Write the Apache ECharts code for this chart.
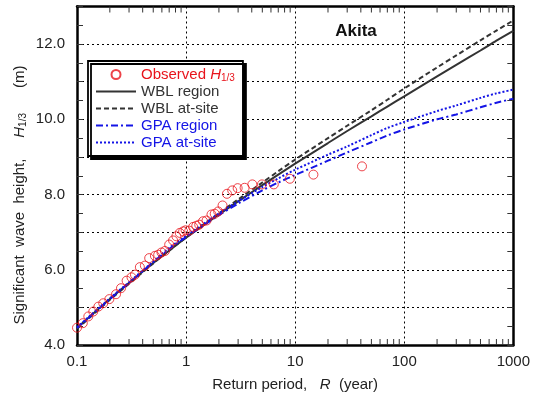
<!DOCTYPE html>
<html>
<head>
<meta charset="utf-8">
<script src="https://cdn.jsdelivr.net/npm/echarts@6/dist/echarts.min.js"></script>
<style>html,body{margin:0;padding:0;background:#fff}#c{width:533px;height:403px}</style>
</head>
<body>
<div id="c"></div>
<script>
// ---- data ----
var obsR = [0.1, 0.113, 0.127, 0.141, 0.157, 0.174, 0.198, 0.228, 0.253, 0.285, 0.316, 0.34, 0.377, 0.419, 0.459, 0.518, 0.555, 0.595, 0.64, 0.70, 0.76, 0.815, 0.875, 0.94, 0.99, 1.07, 1.16, 1.24, 1.32, 1.43, 1.54, 1.71, 1.83, 1.97, 2.16, 2.37, 2.65, 2.97, 3.44, 4.05, 4.96, 6.37, 8.94, 14.7, 41.0];
var obsH = [4.46, 4.58, 4.76, 4.89, 5.02, 5.11, 5.22, 5.35, 5.51, 5.71, 5.80, 5.87, 6.07, 6.11, 6.31, 6.37, 6.40, 6.46, 6.50, 6.67, 6.78, 6.89, 6.98, 7.02, 7.05, 7.04, 7.14, 7.17, 7.20, 7.29, 7.31, 7.47, 7.49, 7.55, 7.71, 8.02, 8.11, 8.17, 8.18, 8.27, 8.27, 8.27, 8.42, 8.53, 8.75];

var curveR = [0.1, 0.2, 0.3, 0.5, 0.7, 1, 2, 3, 5, 7, 10, 20, 30, 50, 70, 100, 200, 300, 500, 700, 1000];
var wblRegion = [4.45, 5.22, 5.65, 6.18, 6.51, 6.85, 7.47, 7.82, 8.25, 8.53, 8.82, 9.37, 9.69, 10.08, 10.34, 10.61, 11.14, 11.45, 11.83, 12.09, 12.35];
var wblAtSite = [4.43, 5.20, 5.63, 6.17, 6.51, 6.86, 7.50, 7.87, 8.32, 8.62, 8.93, 9.50, 9.83, 10.24, 10.52, 10.82, 11.38, 11.70, 12.10, 12.36, 12.63];
var gpaRegion = [4.45, 5.22, 5.65, 6.20, 6.55, 6.87, 7.45, 7.76, 8.11, 8.32, 8.52, 8.90, 9.12, 9.39, 9.57, 9.73, 10.00, 10.13, 10.32, 10.44, 10.55];
var gpaAtSite = [4.47, 5.24, 5.67, 6.22, 6.58, 6.90, 7.50, 7.82, 8.20, 8.43, 8.66, 9.06, 9.28, 9.58, 9.77, 9.93, 10.22, 10.37, 10.57, 10.69, 10.79];

var xMajorLabels = {0.1: '0.1', 1: '1', 10: '10', 100: '100', 1000: '1000'};
var xMinorTicks = [0.2,0.3,0.4,0.5,0.6,0.7,0.8,0.9, 2,3,4,5,6,7,8,9, 20,30,40,50,60,70,80,90, 200,300,400,500,600,700,800,900];
var yLabelValues = [4, 6, 8, 10, 12];

var names = ['Observed', 'WBL region', 'WBL at-site', 'GPA region', 'GPA at-site'];

// ---- build ----
function pairs(xs, ys){ return xs.map(function(x,i){ return [x, ys[i]]; }); }
var FONT = '"Liberation Sans", Arial, Helvetica, sans-serif';
var gridStyle = {show:true, lineStyle:{color:'#000', width:1, type:[2,3]}};
var BLUE = '#1414e6', DARK = '#333333', RED = '#e8141c';
var hideSym = {opacity: 0};

var chart = echarts.init(document.getElementById('c'));
var option = {
  animation: false,
  textStyle: {fontFamily: FONT},
  title: {
    text: 'Akita', left: 351, top: 18, textAlign: 'center',
    textStyle: {fontSize: 17, fontWeight: 'bold', color: '#111', fontFamily: FONT}
  },
  grid: {left: 77, right: 19, top: 6.5, bottom: 58},
  legend: {
    orient: 'vertical', left: 88, top: 61,
    itemWidth: 40, itemHeight: 9, itemGap: 0,
    padding: [5, 8, 5, 7],
    backgroundColor: '#fff', borderColor: '#000', borderWidth: 1.8,
    shadowColor: '#000', shadowOffsetX: 3, shadowOffsetY: 3, shadowBlur: 0,
    textStyle: {fontSize: 15, lineHeight: 17, fontFamily: FONT,
      rich: {i: {fontStyle: 'italic', fontSize: 15, fontFamily: FONT}, s: {fontSize: 10, verticalAlign: 'bottom', padding:[6,0,0,0], fontFamily: FONT}}},
    formatter: function(n){ return n === 'Observed' ? 'Observed {i|H}{s|1/3}' : n; },
    data: [
      {name: names[0], textStyle: {color: RED}},
      {name: names[1], textStyle: {color: DARK}, itemStyle: hideSym},
      {name: names[2], textStyle: {color: DARK}, itemStyle: hideSym},
      {name: names[3], textStyle: {color: BLUE}, itemStyle: hideSym},
      {name: names[4], textStyle: {color: BLUE}, itemStyle: hideSym}
    ]
  },
  xAxis: [{
    type: 'log', logBase: 10, min: 0.1, max: 1000, position: 'bottom',
    axisLine: {show: true, onZero: false, lineStyle: {color: '#000', width: 2.5}},
    axisTick: {show: false},
    axisLabel: {fontSize: 15, color: '#222', margin: 9, fontFamily: FONT,
      formatter: function(v){ var k = Object.keys(xMajorLabels).find(function(key){ return Math.abs(Math.log10(+key) - Math.log10(v)) < 1e-6; }); return k ? xMajorLabels[k] : ''; }},
    splitLine: gridStyle,
    name: 'Return period,   {i|R}  (year)', nameLocation: 'middle', nameGap: 32,
    nameTextStyle: {fontSize: 15, color: '#222', fontFamily: FONT, rich: {i: {fontStyle: 'italic', fontSize: 15, color:'#222', fontFamily: FONT}}}
  }, {
    type: 'log', logBase: 10, min: 0.1, max: 1000, position: 'top',
    axisLine: {show: true, onZero: false, lineStyle: {color: '#000', width: 2.5}},
    axisTick: {show: false}, axisLabel: {show: false}, splitLine: {show: false}
  }],
  yAxis: [{
    type: 'value', min: 4, max: 13, interval: 1, position: 'left',
    axisLine: {show: true, onZero: false, lineStyle: {color: '#000', width: 2.5}},
    axisTick: {show: true, inside: true, length: 6, lineStyle: {color: '#333', width: 1}},
    minorTick: {show: true, splitNumber: 2, length: 6, lineStyle: {color: '#333', width: 1}},
    axisLabel: {fontSize: 15, color: '#222', margin: 12, fontFamily: FONT,
      formatter: function(v){ return yLabelValues.indexOf(v) >= 0 ? v.toFixed(1) : ''; }},
    splitLine: gridStyle
  }, {
    type: 'value', min: 4, max: 13, interval: 1, position: 'right',
    axisLine: {show: true, onZero: false, lineStyle: {color: '#000', width: 2.5}},
    axisTick: {show: true, inside: true, length: 6, lineStyle: {color: '#333', width: 1}},
    minorTick: {show: true, splitNumber: 2, length: 6, lineStyle: {color: '#333', width: 1}},
    axisLabel: {show: false}, splitLine: {show: false}
  }],
  graphic: [{
    type: 'text', x: 20, y: 195, rotation: Math.PI/2,
    style: {
      text: 'Significant  wave  height,     {i|H}{s|1/3}      (m)',
      font: '15px ' + FONT, fill: '#222', align: 'center', verticalAlign: 'middle',
      rich: {i: {fontStyle: 'italic', fontSize: 15, fontFamily: FONT, fill:'#222'}, s: {fontSize: 10, fontFamily: FONT, fill:'#222', verticalAlign:'bottom', padding:[6,0,0,0]}}
    }
  }],
  series: [
    {
      name: 'minorTicks', type: 'custom', silent: true, clip: false, z: 5,
      data: xMinorTicks.map(function(v){ return [v, 4]; }),
      renderItem: function(params, api){
        var pb = api.coord([api.value(0), 4]);
        var pt = api.coord([api.value(0), 13]);
        var st = {stroke: '#333', lineWidth: 1};
        return {type: 'group', children: [
          {type: 'line', shape: {x1: pb[0], y1: pb[1], x2: pb[0], y2: pb[1] - 6}, style: st},
          {type: 'line', shape: {x1: pt[0], y1: pt[1], x2: pt[0], y2: pt[1] + 6}, style: st}
        ]};
      }
    },
    {name: names[1], type: 'line', data: pairs(curveR, wblRegion), symbol: 'none', smooth: 0.3, z: 3,
      lineStyle: {color: DARK, width: 2}, itemStyle: {color: DARK}},
    {name: names[2], type: 'line', data: pairs(curveR, wblAtSite), symbol: 'none', smooth: 0.3, z: 3,
      lineStyle: {color: DARK, width: 2, type: [5, 3]}, itemStyle: {color: DARK}},
    {name: names[3], type: 'line', data: pairs(curveR, gpaRegion), symbol: 'none', smooth: 0.3, z: 3,
      lineStyle: {color: BLUE, width: 2, type: [7, 3, 2, 3]}, itemStyle: {color: BLUE}},
    {name: names[4], type: 'line', data: pairs(curveR, gpaAtSite), symbol: 'none', smooth: 0.3, z: 3,
      lineStyle: {color: BLUE, width: 2, type: [2, 2]}, itemStyle: {color: BLUE}},
    {name: names[0], type: 'scatter', data: pairs(obsR, obsH), symbol: 'circle', symbolSize: 9, z: 4,
      itemStyle: {color: 'rgba(255,255,255,0)', borderColor: RED, borderWidth: 1}}
  ]
};
chart.setOption(option);
</script>
</body>
</html>
